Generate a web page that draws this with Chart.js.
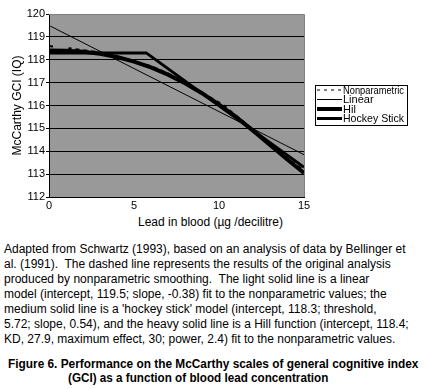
<!DOCTYPE html>
<html>
<head>
<meta charset="utf-8">
<script src="https://cdn.jsdelivr.net/npm/chart.js@4"></script>
<style>
  body { margin: 0; background: #fff; width: 424px; height: 389px; overflow: hidden; position: relative;
         font-family: "Liberation Sans", Arial, sans-serif; color: #000; }
  #wrap { position: absolute; left: 0; top: 0; width: 424px; height: 215px; }
  #xtitle { position: absolute; left: 138px; top: 215px; font-size: 12px; white-space: nowrap; }
  #opis { position: absolute; left: 4px; top: 242px; font-size: 12px; line-height: 15px; white-space: nowrap; }
  .cap { position: absolute; font-weight: bold; font-size: 12px; white-space: nowrap; transform-origin: 0 0; }
</style>
</head>
<body>
<div id="wrap"><canvas id="myChart" width="424" height="215"></canvas></div>
<div id="xtitle">Lead in blood (µg /decilitre)</div>
<div id="opis">Adapted from Schwartz (1993), based on an analysis of data by Bellinger et<br>al. (1991).&nbsp; The dashed line represents the results of the original analysis<br>produced by nonparametric smoothing.&nbsp; The light solid line is a linear<br>model (intercept, 119.5; slope, -0.38) fit to the nonparametric values; the<br>medium solid line is a 'hockey stick' model (intercept, 118.3; threshold,<br>5.72; slope, 0.54), and the heavy solid line is a Hill function (intercept, 118.4;<br>KD, 27.9, maximum effect, 30; power, 2.4) fit to the nonparametric values.</div>
<div class="cap" id="cap1" style="left:8px;top:357px">Figure 6. Performance on the McCarthy scales of general cognitive index</div>
<div class="cap" id="cap2" style="left:68px;top:371px">(GCI) as a function of blood lead concentration</div>
<script>
// dane
const lead_nonpar = [0, 0.3, 0.35, 1.15, 1.2, 2, 3, 3.6, 4, 4.5, 5, 6, 7, 8, 9, 9.6, 10.2, 11, 12, 13, 14, 15];
const gci_nonpar = [118.6, 118.58, 118.38, 118.4, 118.5, 118.42, 118.33, 118.2, 118.1, 118.02, 117.93, 117.72, 117.4, 117.0, 116.55, 116.3, 116.05, 115.55, 114.95, 114.3, 113.7, 113.15];

const lead_linear = [0, 15];
const gci_linear = [119.5, 113.85];

const lead_hill = [0, 1, 2, 3, 4, 5, 6, 7, 8, 9, 10, 11, 12, 13, 14, 15];
const gci_hill = [118.4, 118.39, 118.35, 118.26, 118.12, 117.92, 117.67, 117.35, 116.97, 116.54, 116.04, 115.5, 114.9, 114.28, 113.65, 113.05];

const lead_hockey = [0, 5.72, 15];
const gci_hockey = [118.3, 118.3, 113.3];

const x_ticks = [0, 5, 10, 15];
const y_ticks = [112, 113, 114, 115, 116, 117, 118, 119, 120];

const legend_labels = ["Nonparametric", "Linear", "Hil", "Hockey Stick"];

function punkty(xs, ys) {
  return xs.map((x, i) => ({ x: x, y: ys[i] }));
}

const tlo = {
  id: "tlo",
  beforeDraw(chart) {
    const a = chart.chartArea;
    const c = chart.ctx;
    c.save();
    c.fillStyle = "#999999";
    c.fillRect(a.left, a.top, a.right - a.left, a.bottom - a.top);
    c.restore();
  },
  afterDraw(chart) {
    const a = chart.chartArea;
    const c = chart.ctx;
    c.save();
    c.strokeStyle = "#808080";
    c.lineWidth = 1;
    c.beginPath();
    c.moveTo(a.left, Math.round(a.top) + 0.5);
    c.lineTo(Math.round(a.right) + 0.5, Math.round(a.top) + 0.5);
    c.lineTo(Math.round(a.right) + 0.5, a.bottom);
    c.stroke();

    // legenda w ramce
    c.fillStyle = "#fff";
    c.fillRect(315.5, 85.5, 92, 40);
    c.strokeStyle = "#000";
    c.strokeRect(315.5, 85.5, 92, 40);
    const rows = [90, 99.5, 109, 118.5];
    chart.data.datasets.forEach((ds, i) => {
      c.strokeStyle = "#000";
      c.lineWidth = i == 0 ? 1 : ds.borderWidth;
      c.setLineDash(i == 0 ? [3, 4] : []);
      c.beginPath();
      c.moveTo(317, rows[i]);
      c.lineTo(342, rows[i]);
      c.stroke();
      c.setLineDash([]);
      c.fillStyle = "#000";
      c.font = "11px 'Liberation Sans', Arial, sans-serif";
      c.textBaseline = "middle";
      const w = c.measureText(ds.label).width;
      const sx = Math.min(1, 61 / w);
      c.save();
      c.translate(343, rows[i] + 0.5);
      c.scale(sx, 1);
      c.fillText(ds.label, 0, 0);
      c.restore();
    });
    c.restore();
  },
};

const ctx = document.getElementById("myChart");
const myChart = new Chart(ctx, {
  type: "scatter",
  data: {
    datasets: [
      {
        label: legend_labels[0],
        data: punkty(lead_nonpar, gci_nonpar),
        showLine: true,
        borderColor: "#000",
        borderWidth: 2,
        borderDash: [4, 4],
        pointRadius: 0,
      },
      {
        label: legend_labels[1],
        data: punkty(lead_linear, gci_linear),
        showLine: true,
        borderColor: "#000",
        borderWidth: 1,
        pointRadius: 0,
      },
      {
        label: legend_labels[2],
        data: punkty(lead_hill, gci_hill),
        showLine: true,
        borderColor: "#000",
        borderWidth: 4,
        pointRadius: 0,
      },
      {
        label: legend_labels[3],
        data: punkty(lead_hockey, gci_hockey),
        showLine: true,
        borderColor: "#000",
        borderWidth: 3,
        pointRadius: 0,
      },
    ],
  },
  options: {
    responsive: false,
    animation: false,
    devicePixelRatio: 1,
    layout: { padding: { top: 14, right: 120, left: 0, bottom: 0 } },
    plugins: {
      legend: { display: false },
      tooltip: { enabled: false },
    },
    scales: {
      x: {
        type: "linear",
        min: 0,
        max: 15,
        afterBuildTicks: (s) => { s.ticks = x_ticks.map((v) => ({ value: v })); },
        afterFit: (s) => { s.height = 18; },
        ticks: { color: "#000", font: { size: 11, family: "'Liberation Sans', Arial" }, padding: 2, maxRotation: 0 },
        grid: { display: false, drawTicks: false },
        border: { color: "#000", width: 1 },
      },
      y: {
        min: 112,
        max: 120,
        afterBuildTicks: (s) => { s.ticks = y_ticks.map((v) => ({ value: v })); },
        afterFit: (s) => { s.width = 49; },
        ticks: { color: "#000", font: { size: 11, family: "'Liberation Sans', Arial" }, padding: 1 },
        grid: { color: "#000", lineWidth: 1, tickLength: 3 },
        border: { color: "#000", width: 1 },
        title: {
          display: true,
          text: "McCarthy GCI (IQ)",
          color: "#000",
          font: { size: 12, family: "'Liberation Sans', Arial" },
          padding: { top: 10, bottom: 0 },
        },
      },
    },
  },
  plugins: [tlo],
});

// podpis - sciesniony jak w oryginale
function sciesnij(id, szer) {
  const el = document.getElementById(id);
  el.style.transform = "scaleX(" + (szer / el.scrollWidth) + ")";
}
sciesnij("cap1", 410);
sciesnij("cap2", 260);
</script>
</body>
</html>
